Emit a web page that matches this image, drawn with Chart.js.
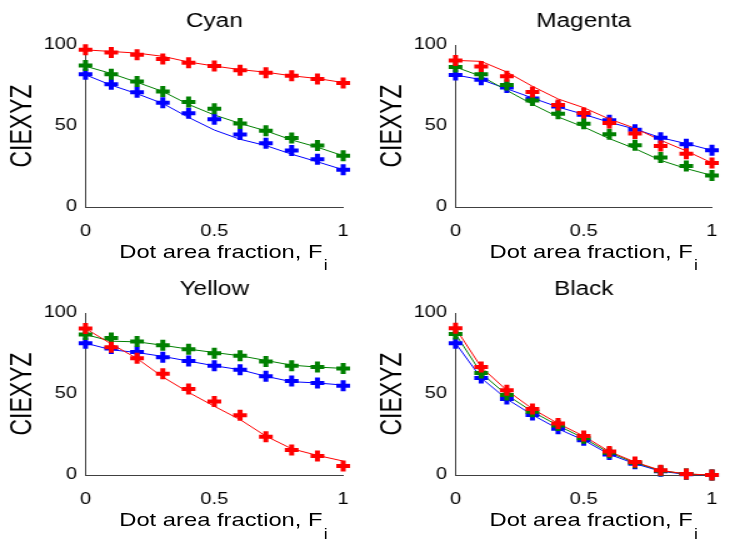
<!DOCTYPE html>
<html>
<head>
<meta charset="UTF-8">
<title>CIEXYZ against dot area fraction</title>
<script src="https://cdn.jsdelivr.net/npm/chart.js"></script>
<style>
  html, body { margin: 0; padding: 0; background: #fff; overflow: hidden; }
  /* the reference glyphs are wide, so the whole figure is stretched sideways */
  #figure { position: absolute; left: 0; top: 0; width: 590px; height: 541px;
            transform: scaleX(1.25); transform-origin: 0 0;
            font-family: "Liberation Sans", Arial, sans-serif; }
  #figure canvas { position: absolute; }
  .xlabel { position: absolute; text-align: center; font-size: 19px; line-height: 20px;
            color: #000; white-space: nowrap; }
  .xlabel span { position: relative; top: 12.7px; font-size: 14px; margin-left: 1px; }
</style>
</head>
<body>
<div id="figure">
  <canvas id="cyan" width="294" height="270" style="left:0; top:0"></canvas>
  <canvas id="magenta" width="293" height="270" style="left:296.4px; top:0"></canvas>
  <canvas id="yellow" width="294" height="270" style="left:0; top:268.4px"></canvas>
  <canvas id="black" width="293" height="270" style="left:296.4px; top:268.4px"></canvas>
  <div class="xlabel" style="left:68.4px; width:220.8px; top:241.7px">Dot area fraction, F<span>i</span></div>
  <div class="xlabel" style="left:364.8px; width:220.4px; top:241.7px">Dot area fraction, F<span>i</span></div>
  <div class="xlabel" style="left:68.4px; width:220.8px; top:510.1px">Dot area fraction, F<span>i</span></div>
  <div class="xlabel" style="left:364.8px; width:220.4px; top:510.1px">Dot area fraction, F<span>i</span></div>
</div>

<script>
var fraction = [0, 0.1, 0.2, 0.3, 0.4, 0.5, 0.6, 0.7, 0.8, 0.9, 1];

// measured points (X, Y, Z drawn red, green, blue)
var cyanRed   = [97, 95.3, 94, 91.4, 89, 87, 84.4, 82.8, 81, 79, 76.6];
var cyanGreen = [87.3, 82, 77.5, 71.3, 64.8, 60.7, 51.6, 47, 42.6, 37.9, 31.6];
var cyanBlue  = [82, 75.8, 70.9, 64.3, 57.8, 54.1, 44.7, 39.3, 34.8, 29.5, 23];
// model curves
var cyanRedFit   = [97, 96, 95, 93, 89.5, 87, 84.8, 83.2, 81, 79.3, 76.8];
var cyanGreenFit = [86.9, 82.4, 77, 71.3, 63.3, 56.8, 51.6, 47, 41.4, 36.9, 31.6];
var cyanBlueFit  = [81.6, 75.2, 69.9, 63.9, 55.3, 47.5, 41.8, 37.9, 32.6, 27.9, 23];

var magentaRed   = [90.5, 86.8, 80.7, 71, 63, 58, 51.9, 45.3, 37.7, 32.9, 27.2];
var magentaGreen = [86.4, 81.9, 75.3, 65.8, 57.6, 51.4, 44.9, 38.1, 30.5, 25.3, 19.5];
var magentaBlue  = [81.5, 78.6, 73.7, 66.9, 62.1, 57, 53.5, 47.7, 42.8, 38.7, 35];
var magentaRedFit   = [90.5, 89.9, 83.3, 74.5, 66.7, 61.3, 54.3, 48.6, 41.2, 34.6, 27.2];
var magentaGreenFit = [86.4, 80.7, 72, 63.4, 55.6, 49.4, 42.2, 36, 28.8, 23.7, 19.5];
var magentaBlueFit  = [81.5, 78.6, 73, 67.3, 61.7, 57.2, 52.3, 48.1, 42.8, 39.1, 35];

var yellowRed   = [90.4, 78.9, 72.1, 62.5, 53.1, 45.3, 36.9, 23.6, 15.4, 11.7, 5.5];
var yellowGreen = [86.7, 84.6, 82.4, 80.1, 77.7, 75.2, 73.6, 70.1, 67.4, 66.6, 65.8];
var yellowBlue  = [81.4, 78.1, 76, 72.7, 70.3, 67.4, 65, 60.9, 58, 56.8, 55.1];
var yellowRedFit   = [90.4, 80.9, 71.9, 60.5, 51, 42.4, 34.2, 24, 16.2, 12.1, 8.6];
var yellowGreenFit = [86.7, 82.6, 82.2, 80.1, 77.7, 75.6, 73.6, 70.7, 67.8, 66.6, 65.8];
var yellowBlueFit  = [81.4, 77.3, 75.6, 73.2, 70.3, 67.4, 65, 60.9, 57.6, 56.8, 55.5];

var blackRed   = [90.6, 66.6, 52.3, 40.8, 31.8, 24, 14.5, 8, 2.9, 0.6, 0];
var blackGreen = [87.1, 62.9, 49.4, 39.1, 30.5, 22.7, 13.7, 7.6, 2.7, 0.6, 0];
var blackBlue  = [81.4, 59.8, 46.9, 37.1, 28.5, 21.5, 12.7, 7, 2.3, 0.4, 0];

var seriesColors = ['#ff0000', '#008000', '#0000ff'];

Chart.defaults.font.family = '"Liberation Sans", Arial, sans-serif';
Chart.defaults.color = '#000';

function toPoints(values) {
    return values.map(function (v, i) { return {x: fraction[i], y: v}; });
}

function drawPanel(id, title, marks, fits, rightPad) {
    var datasets = [];
    // first dataset ends up on top, so markers go first and red leads
    marks.forEach(function (m, i) {
        datasets.push({
            data: toPoints(m),
            showLine: false,
            pointStyle: 'cross',
            pointRadius: 5.5,
            pointBorderWidth: 4,
            borderColor: seriesColors[i],
            backgroundColor: seriesColors[i],
            clip: false
        });
    });
    fits.forEach(function (f, i) {
        datasets.push({
            data: toPoints(f),
            showLine: true,
            pointRadius: 0,
            borderWidth: 1,
            borderColor: seriesColors[i],
            clip: false
        });
    });

    new Chart(document.getElementById(id), {
        type: 'scatter',
        data: { datasets: datasets },
        options: {
            responsive: false,
            animation: false,
            layout: { padding: { left: 0, right: rightPad, top: 0, bottom: 0 } },
            plugins: {
                legend: { display: false },
                tooltip: { enabled: false },
                title: {
                    display: true,
                    text: title,
                    fullSize: false,
                    font: { size: 19.5, weight: 'normal' },
                    color: '#000',
                    padding: { top: 10.3, bottom: 11.3 }
                }
            },
            scales: {
                x: {
                    type: 'linear',
                    min: 0,
                    max: 1,
                    grid: { display: false, drawTicks: false },
                    border: { color: '#404040', width: 1 },
                    ticks: {
                        stepSize: 0.5,
                        padding: 15,
                        maxRotation: 0,
                        font: { size: 16 },
                        callback: function (v) { return String(v); }
                    },
                    afterFit: function (s) { s.height = 63; }
                },
                y: {
                    min: 0,
                    max: 100,
                    grid: { display: false, drawTicks: false },
                    border: { color: '#404040', width: 1 },
                    ticks: { stepSize: 50, padding: 6.8, font: { size: 16 } },
                    title: {
                        display: true,
                        text: 'CIEXYZ',
                        font: { size: 23 },
                        padding: { top: 4.6, bottom: 0 }
                    },
                    afterFit: function (s) { s.width = 68.4; }
                }
            }
        }
    });
}

drawPanel('cyan', 'Cyan',
    [cyanRed, cyanGreen, cyanBlue],
    [cyanRedFit, cyanGreenFit, cyanBlueFit], 4.8);
drawPanel('magenta', 'Magenta',
    [magentaRed, magentaGreen, magentaBlue],
    [magentaRedFit, magentaGreenFit, magentaBlueFit], 4.2);
drawPanel('yellow', 'Yellow',
    [yellowRed, yellowGreen, yellowBlue],
    [yellowRedFit, yellowGreenFit, yellowBlueFit], 4.8);
drawPanel('black', 'Black',
    [blackRed, blackGreen, blackBlue],
    [blackRed, blackGreen, blackBlue], 4.2);
</script>
</body>
</html>
